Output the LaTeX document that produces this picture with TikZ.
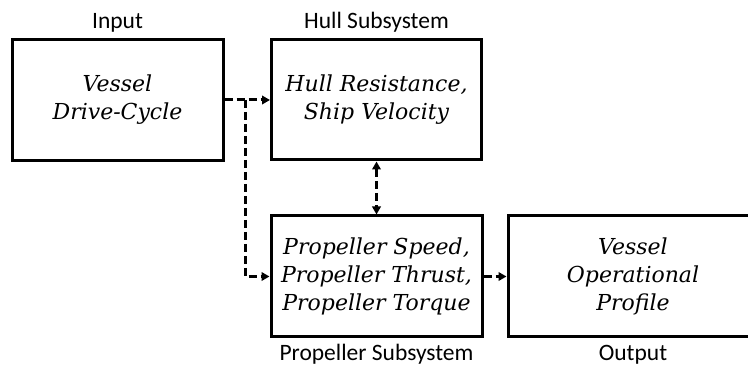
\documentclass[tikz,border=0pt]{standalone}
\usepackage{fontspec}
\setmainfont{Carlito}
\newfontfamily\boxfont{DejaVu Serif}
\usetikzlibrary{arrows.meta}

\tikzset{
  block/.style={draw, line width=3pt, rectangle, inner sep=0pt,
    align=center, font=\boxfont\itshape\fontsize{22}{28}\selectfont},
  caption/.style={anchor=base, inner sep=0pt, font=\fontsize{23.5}{26}\selectfont},
  flow/.style={line width=3pt, dash pattern=on 8pt off 4pt,
    -{Triangle[length=8pt,width=8.5pt]}},
  twoway/.style={line width=3pt, dash pattern=on 8pt off 4pt,
    {Triangle[length=8pt,width=8.5pt]}-{Triangle[length=8pt,width=8.5pt]}}
}

\begin{document}
\begin{tikzpicture}[x=1pt,y=-1pt]
  \useasboundingbox (0,0) rectangle (748,366);
  \clip (0,0) rectangle (748,366);

  % blocks
  \node[block, minimum width=211pt, minimum height=121pt] (cycle) at (117.5,100)
    {Vessel\\Drive-Cycle};
  \node[block, minimum width=210pt, minimum height=120pt] (hull) at (376.5,100)
    {Hull Resistance,\\Ship Velocity};
  \node[block, minimum width=211pt, minimum height=121pt] (prop) at (376.5,276.5)
    {Propeller Speed,\\Propeller Thrust,\\Propeller Torque};
  \node[block, minimum width=250pt, minimum height=121pt] (out) at (633,276.5)
    {Vessel\\Operational\\Profile};

  % captions
  \node[caption] (capin) at (117.5,29) {Input};
  \node[caption] (caphull) at (376.5,29) {Hull Subsystem};
  \node[caption] (capprop) at (376.5,361) {Propeller Subsystem};
  \node[caption] (capout) at (633,361) {Output};

  % connectors
  \coordinate (split) at (245,100);
  \draw[flow] (cycle.east) -- (hull.west);
  \draw[flow] (split) |- (prop.west);
  \draw[twoway] (hull.south) -- (prop.north);
  \draw[flow] (prop.east) -- (out.west);
\end{tikzpicture}
\end{document}
